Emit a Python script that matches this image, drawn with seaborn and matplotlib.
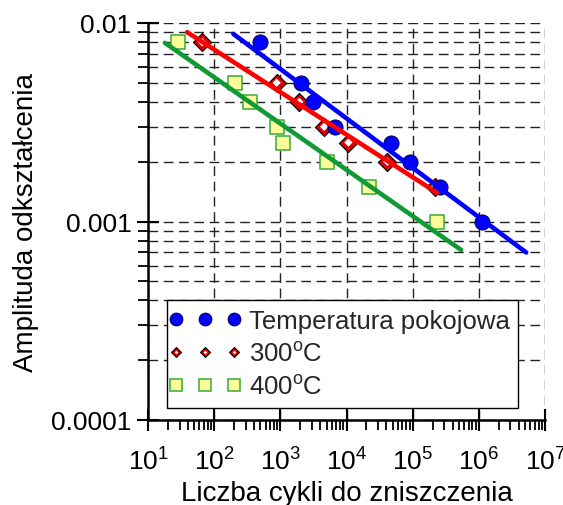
import numpy as np
import pandas as pd
import matplotlib
matplotlib.use("Agg")
import matplotlib.pyplot as plt
import seaborn as sns
from matplotlib import ticker
from matplotlib.lines import Line2D
from matplotlib.legend_handler import HandlerTuple, HandlerLine2D

# Fatigue test results: number of cycles to failure vs. strain amplitude
cycles_rt = [490, 2040, 3090, 6700, 46800, 91000, 263000, 1120000]
amp_rt = [0.008, 0.005, 0.004, 0.003, 0.0025, 0.002, 0.0015, 0.001]

cycles_300 = [66, 880, 1940, 4600, 10700, 41500, 219000]
amp_300 = [0.008, 0.005, 0.004, 0.003, 0.0025, 0.002, 0.0015]

cycles_400 = [28, 205, 347, 880, 1085, 5000, 22000, 230000]
amp_400 = [0.008, 0.005, 0.004, 0.003, 0.0025, 0.002, 0.0015, 0.001]

# Extent of each fitted power-law line (cycles)
fit_range_rt = [195, 5.2e6]
fit_range_300 = [39, 2.33e5]
fit_range_400 = [18, 5.4e5]

series_labels = ["Temperatura pokojowa", r"300$^{\mathrm{o}}$C", r"400$^{\mathrm{o}}$C"]
x_label = "Liczba cykli do zniszczenia"
y_label = "Amplituda odkształcenia"

sns.set_theme(style="white")
plt.rcParams["font.family"] = ["Liberation Sans", "DejaVu Sans"]
plt.rcParams["mathtext.fontset"] = "custom"
plt.rcParams["mathtext.rm"] = "Liberation Sans"
plt.rcParams["mathtext.it"] = "Liberation Sans:italic"
plt.rcParams["mathtext.bf"] = "Liberation Sans:bold"

BLUE = "#0000ff"
RED = "#ff0000"
RED_MK = "#dd0000"
GREEN = "#119933"
GREEN_MK = "#44b044"
YELLOW = "#ffff99"


def power_fit(n, a, n_range):
    """Least-squares fit of log(a) vs log(n); returns the line over n_range."""
    coef = np.polyfit(np.log10(n), np.log10(a), 1)
    x = np.array(n_range, dtype=float)
    return pd.DataFrame({"n": x, "a": 10 ** np.polyval(coef, np.log10(x))})


fig = plt.figure(figsize=(5.63, 5.06), dpi=100)
ax = fig.add_axes([148 / 563, 1 - 421 / 506, 397 / 563, 397 / 506])
ax.set_xscale("log")
ax.set_yscale("log")
ax.set_xlim(10, 1e7)
ax.set_ylim(1e-4, 1e-2)

df_rt = pd.DataFrame({"n": cycles_rt, "a": amp_rt})
df_300 = pd.DataFrame({"n": cycles_300, "a": amp_300})
df_400 = pd.DataFrame({"n": cycles_400, "a": amp_400})

# markers
sns.scatterplot(data=df_400, x="n", y="a", ax=ax, marker="s", s=88,
                color=YELLOW, edgecolor=GREEN_MK, linewidth=1.2, legend=False, zorder=3)
sns.scatterplot(data=df_300, x="n", y="a", ax=ax, marker="D", s=85,
                color=RED_MK, edgecolor="black", linewidth=0.8, legend=False, zorder=3)
sns.scatterplot(data=df_300, x="n", y="a", ax=ax, marker="D", s=18,
                color="white", edgecolor="none", linewidth=0, legend=False, zorder=3)
sns.scatterplot(data=df_rt, x="n", y="a", ax=ax, marker="o", s=120,
                color=BLUE, edgecolor="#000033", linewidth=0.6, legend=False, zorder=3)

# fitted lines
for df, rng, col in [(df_rt, fit_range_rt, BLUE),
                     (df_300, fit_range_300, RED),
                     (df_400, fit_range_400, GREEN)]:
    fit = power_fit(df["n"], df["a"], rng)
    sns.lineplot(data=fit, x="n", y="a", ax=ax, color=col, linewidth=3.3,
                 solid_capstyle="round", legend=False, zorder=4)

# grid
dash = (0, (7, 4))
ax.set_axisbelow(True)
ax.grid(True, which="major", axis="both", color="#222222", linestyle=dash, linewidth=1.0)
ax.grid(True, which="minor", axis="y", color="#222222", linestyle=dash, linewidth=1.0)
ax.grid(False, which="minor", axis="x")

# axes and ticks
for side in ["top", "right"]:
    ax.spines[side].set_visible(False)
for side in ["left", "bottom"]:
    ax.spines[side].set_color("black")
    ax.spines[side].set_linewidth(1.8)

ax.xaxis.set_major_locator(ticker.LogLocator(base=10, numticks=10))
ax.xaxis.set_minor_locator(ticker.LogLocator(base=10, subs=np.arange(2, 10), numticks=20))
ax.xaxis.set_minor_formatter(ticker.NullFormatter())
ax.yaxis.set_major_locator(ticker.FixedLocator([1e-4, 1e-3, 1e-2]))
ax.yaxis.set_major_formatter(ticker.FixedFormatter(["0.0001", "0.001", "0.01"]))
ax.yaxis.set_minor_locator(ticker.LogLocator(base=10, subs=np.arange(2, 10), numticks=20))
ax.yaxis.set_minor_formatter(ticker.NullFormatter())

ax.tick_params(axis="both", which="major", direction="inout", length=16, width=1.5,
               color="black", labelsize=19, labelcolor="black")
ax.tick_params(axis="both", which="minor", direction="out", length=7, width=1.3, color="black")
ax.tick_params(axis="y", which="major", pad=4)
ax.tick_params(axis="x", which="major", pad=12)
ax.tick_params(left=True, bottom=True, which="both")

ax.set_xlabel(x_label, fontsize=20, color="black")
ax.set_ylabel(y_label, fontsize=20, color="black")
ax.xaxis.set_label_coords(0.5, -0.15)
ax.yaxis.set_label_coords(-0.275, 0.5)

# legend: three symbols per entry
h_rt = Line2D([], [], linestyle="none", marker="o", markersize=9.3, markerfacecolor=BLUE,
              markeredgecolor="#000033", markeredgewidth=0.6)
h_300a = Line2D([], [], linestyle="none", marker="D", markersize=4.8, markerfacecolor=RED_MK,
                markeredgecolor="black", markeredgewidth=0.8)
h_300b = Line2D([], [], linestyle="none", marker="D", markersize=1.8, markerfacecolor="white",
                markeredgecolor="none", markeredgewidth=0)
h_400 = Line2D([], [], linestyle="none", marker="s", markersize=8.3, markerfacecolor=YELLOW,
               markeredgecolor=GREEN_MK, markeredgewidth=1.2)
leg = ax.legend([h_rt, (h_300a, h_300b), h_400], series_labels,
                handler_map={tuple: HandlerTuple(ndivide=1, pad=0),
                             Line2D: HandlerLine2D(marker_pad=0)},
                numpoints=3, loc="lower left", bbox_to_anchor=(0.048, 0.030),
                borderaxespad=0, fontsize=18.5, frameon=True, fancybox=False, shadow=False,
                framealpha=1, edgecolor="black", borderpad=0.35, labelspacing=0.36,
                handlelength=2.26, handletextpad=0.56)
leg.get_frame().set_linewidth(1.0)
leg.set_zorder(10)

fig.savefig("out.png", dpi=100)
